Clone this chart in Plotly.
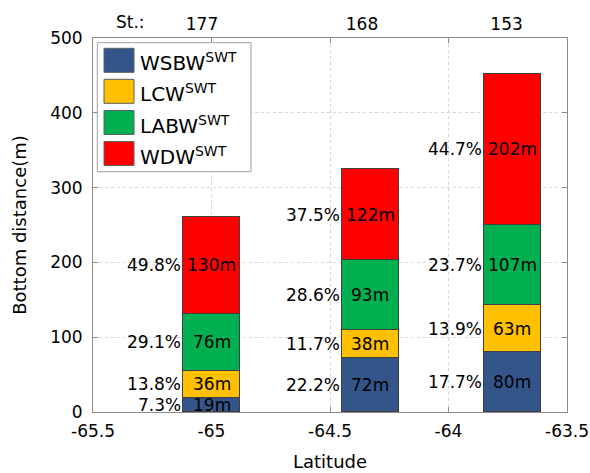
import plotly.graph_objects as go

# ---- data ----
latitude = [-65.0, -64.33, -63.73]          # bar positions
station_lat = [-65.04, -64.365, -63.755]    # station label positions (top axis)
stations = ["177", "168", "153"]
wsbw = [19, 72, 80]
lcw = [36, 38, 63]
labw = [76, 93, 107]
wdw = [130, 122, 202]
names = ["WSBW", "LCW", "LABW", "WDW"]
x_ticks = [-65.5, -65, -64.5, -64, -63.5]
x_ticklabels = ["-65.5", "-65", "-64.5", "-64", "-63.5"]
y_ticks = [0, 100, 200, 300, 400, 500]

series = [wsbw, lcw, labw, wdw]
colors = ["#33558a", "#ffc000", "#00b050", "#ff0000"]
bar_w = 0.24

FONT = "DejaVu Sans"
W, H = 590, 473
ML, MR, MT, MB = 93, 23, 38, 61
PW, PH = W - ML - MR, H - MT - MB


def px_x(p):
    return (p - ML) / PW


def px_y(p):
    return 1 - (p - MT) / PH


fig = go.Figure()
for name, vals, col in zip(names, series, colors):
    fig.add_trace(go.Bar(
        x=latitude, y=vals, width=bar_w, name=name,
        marker=dict(color=col, line=dict(color="#404040", width=1)),
        showlegend=False, hoverinfo="skip",
    ))

# invisible trace to carry top axis
fig.add_trace(go.Scatter(x=station_lat, y=[0, 0, 0], xaxis="x2", mode="markers",
                         marker=dict(opacity=0), showlegend=False, hoverinfo="skip"))

annotations = []
totals = [sum(s[i] for s in series) for i in range(len(latitude))]
for i, lat in enumerate(latitude):
    base = 0
    for vals in series:
        v = vals[i]
        yc = base + v / 2
        annotations.append(dict(x=lat, y=yc, xref="x", yref="y", text=f"{v}m",
                                showarrow=False, font=dict(family=FONT, size=17, color="black"),
                                xanchor="center", yanchor="middle"))
        pct = v / totals[i] * 100
        annotations.append(dict(x=lat - bar_w / 2, y=yc, xref="x", yref="y", text=f"{pct:.1f}%",
                                showarrow=False, font=dict(family=FONT, size=17, color="black"),
                                xanchor="right", yanchor="middle", xshift=0))
        base += v

annotations.append(dict(x=-65.34, y=1, xref="x", yref="paper", text="St.:", showarrow=False,
                        font=dict(family=FONT, size=17, color="black"),
                        xanchor="center", yanchor="middle", yshift=16))

# custom legend
shapes = [dict(type="rect", xref="paper", yref="paper",
               x0=px_x(97.3), x1=px_x(251), y0=px_y(171.7), y1=px_y(42.7),
               line=dict(color="#a0a0a0", width=1), fillcolor="white", layer="above")]
sw_tops = [48.3, 79.3, 110.5, 141.5]
for name, col, top in zip(names, colors, sw_tops):
    shapes.append(dict(type="rect", xref="paper", yref="paper",
                       x0=px_x(104), x1=px_x(134), y0=px_y(top + 24), y1=px_y(top),
                       line=dict(color="#606060", width=1), fillcolor=col, layer="above"))
    annotations.append(dict(x=px_x(138), y=px_y(top + 14), xref="paper", yref="paper",
                            text=f"{name}<sup>SWT</sup>", showarrow=False,
                            font=dict(family=FONT, size=20, color="black"),
                            xanchor="left", yanchor="middle"))

axis_common = dict(showline=True, linecolor="#8c8c8c", linewidth=1, mirror="ticks",
                   ticks="inside", ticklen=5, tickcolor="#8c8c8c", automargin=False,
                   showgrid=True, gridcolor="#d6d6d6", griddash="dot", gridwidth=1,
                   zeroline=False, tickfont=dict(family=FONT, size=17, color="black"))

fig.update_layout(
    width=W, height=H, margin=dict(l=ML, r=MR, t=MT, b=MB),
    plot_bgcolor="white", paper_bgcolor="white", barmode="stack", bargap=0,
    font=dict(family=FONT, color="black"),
    xaxis=dict(range=[-65.5, -63.5], tickvals=x_ticks, ticktext=x_ticklabels,
               ticklabelstandoff=4,
               title=dict(text="Latitude", font=dict(family=FONT, size=18), standoff=14),
               **axis_common),
    xaxis2=dict(range=[-65.5, -63.5], overlaying="x", side="top", tickvals=station_lat,
                ticktext=stations, showgrid=False, showline=False, ticks="",
                automargin=False, ticklabelstandoff=4,
                zeroline=False, tickfont=dict(family=FONT, size=17, color="black")),
    yaxis=dict(range=[0, 500], tickvals=y_ticks, ticklabelstandoff=6,
               title=dict(text="Bottom distance(m)", font=dict(family=FONT, size=18), standoff=18),
               **axis_common),
    annotations=annotations, shapes=shapes,
)

# remove the browser's default page margin so the figure sits at the window origin
fig.write_html("out.html", config={"displayModeBar": False},
               post_script="document.body.style.margin='0';")
